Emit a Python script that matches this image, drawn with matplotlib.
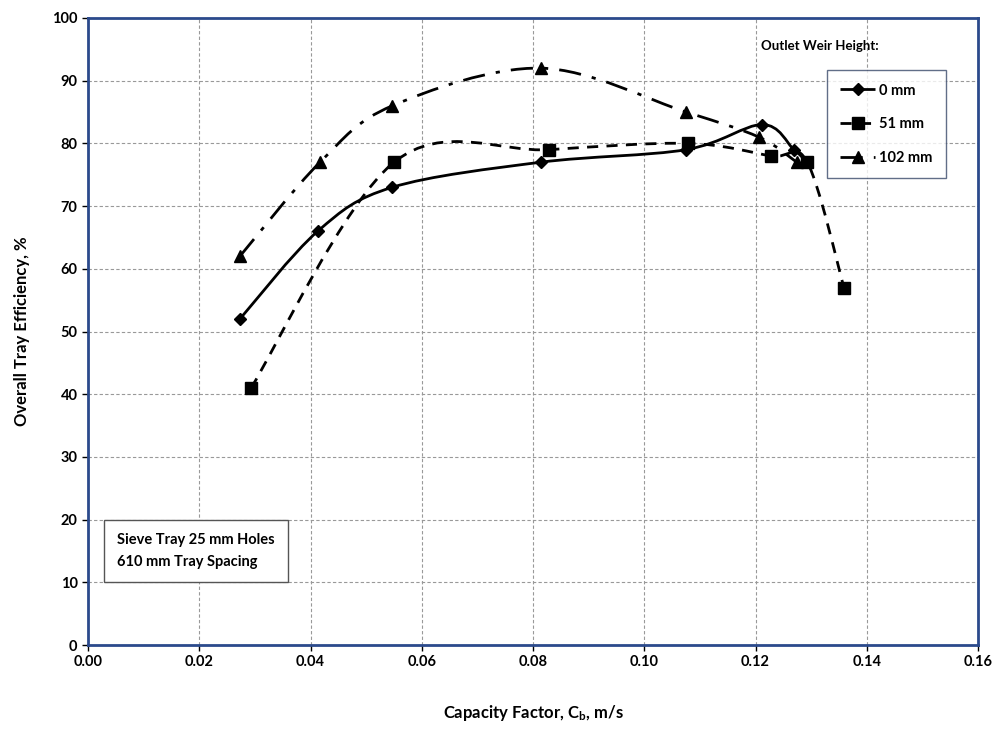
import numpy as np
import matplotlib
matplotlib.use("Agg")
import matplotlib.pyplot as plt
from matplotlib.path import Path
from matplotlib.patches import PathPatch

plt.rcParams['font.family'] = ['Lato', 'DejaVu Sans']
plt.rcParams['mathtext.fontset'] = 'custom'
plt.rcParams['mathtext.rm'] = 'Lato:bold'
plt.rcParams['mathtext.it'] = 'Lato:bold'

# data
cb_0 = [0.0273, 0.0413, 0.0547, 0.0814, 0.1075, 0.1212, 0.1269, 0.1293]
eff_0 = [52, 66, 73, 77, 79, 83, 79, 77]

cb_51 = [0.0293, 0.0550, 0.0829, 0.1079, 0.1228, 0.1293, 0.1359]
eff_51 = [41, 77, 79, 80, 78, 77, 57]

cb_102 = [0.0273, 0.0417, 0.0547, 0.0814, 0.1075, 0.1206, 0.1274]
eff_102 = [62, 77, 86, 92, 85, 81, 77]

labels = ['0 mm', '51 mm', '102 mm']


def smooth_path(x, y):
    # excel style smoothed line (bezier through the points)
    p = np.column_stack([x, y]).astype(float)
    n = len(p)
    verts = [p[0]]
    codes = [Path.MOVETO]
    for i in range(n - 1):
        p0 = p[i - 1] if i > 0 else p[i]
        p3 = p[i + 2] if i + 2 < n else p[i + 1]
        c1 = p[i] + (p[i + 1] - p0) / 6.0
        c2 = p[i + 1] - (p3 - p[i]) / 6.0
        verts += [c1, c2, p[i + 1]]
        codes += [Path.CURVE4] * 3
    return Path(verts, codes)


fig = plt.figure(figsize=(9.97, 7.31), dpi=100)
ax = fig.add_axes([0.0883, 0.1176, 0.8927, 0.8578])

series = [(cb_0, eff_0, (0, ()), 'D', 6), (cb_51, eff_51, (0, (4, 3)), 's', 8),
          (cb_102, eff_102, (0, (8, 4, 1.5, 4)), '^', 8)]
for (x, y, ls, mk, ms), lab in zip(series, labels):
    patch = PathPatch(smooth_path(x, y), facecolor='none', edgecolor='black',
                      lw=2, linestyle=ls, zorder=3)
    ax.add_patch(patch)
    ax.plot(x, y, linestyle='none', marker=mk, ms=ms, color='black', zorder=4)
    # legend proxy
    ax.plot([], [], color='black', lw=2, linestyle=ls,
            marker=mk, ms=ms, label=lab)

ax.set_xlim(0, 0.16)
ax.set_ylim(0, 100)
ax.set_xticks(np.arange(0, 0.161, 0.02))
ax.set_yticks(np.arange(0, 101, 10))
ax.set_xticklabels(['%.2f' % v for v in np.arange(0, 0.161, 0.02)])
ax.tick_params(labelsize=10.5, length=4, width=1)
for t in ax.get_xticklabels() + ax.get_yticklabels():
    t.set_fontweight('bold')
ax.grid(True, linestyle=(0, (3, 2)), color='#999999', lw=0.8)
ax.set_axisbelow(True)
for s in ax.spines.values():
    s.set_edgecolor('#2B4A8C')
    s.set_linewidth(2)

ax.set_xlabel(r'Capacity Factor, C$_\mathregular{b}$, m/s', fontsize=12,
              fontweight='bold', labelpad=24)
ax.set_ylabel('Overall Tray Efficiency, %', fontsize=12, fontweight='bold',
              labelpad=16)

leg = ax.legend(loc='upper left', bbox_to_anchor=(0.822, 0.928), frameon=True,
                fancybox=False, fontsize=10.5, handlelength=2.4, labelspacing=1.35,
                borderpad=0.9, handletextpad=0.3)
leg.get_frame().set_edgecolor('#3A4A6A')
leg.get_frame().set_linewidth(1)
for t in leg.get_texts():
    t.set_fontweight('bold')
ax.text(0.756, 0.955, 'Outlet Weir Height:', transform=ax.transAxes,
        fontsize=9.5, fontweight='bold', va='center')

ax.text(0.033, 0.178, 'Sieve Tray 25 mm Holes\n610 mm Tray Spacing',
        transform=ax.transAxes, fontsize=10.5, fontweight='bold', va='top',
        linespacing=1.7,
        bbox=dict(boxstyle='square,pad=0.9', facecolor='white',
                  edgecolor='#555555', lw=1))

fig.savefig('out.png', dpi=100)
